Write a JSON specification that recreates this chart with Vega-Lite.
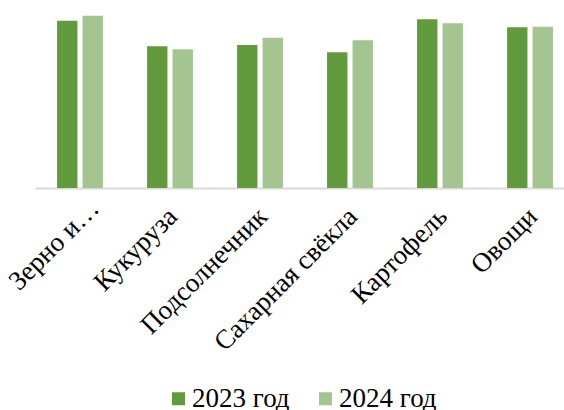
{
  "$schema": "https://vega.github.io/schema/vega-lite/v6.json",
  "autosize": {"type": "none"},
  "width": 540,
  "height": 180,
  "padding": {"left": 35, "top": 8, "right": 0, "bottom": 222},
  "background": "white",
  "config": {"view": {"stroke": null}, "font": "Liberation Serif"},
  "data": {"values": [
    {"cat": "Зерно и…", "year": "2023 год", "v": 167.3},
    {"cat": "Зерно и…", "year": "2024 год", "v": 172.3},
    {"cat": "Кукуруза", "year": "2023 год", "v": 141.7},
    {"cat": "Кукуруза", "year": "2024 год", "v": 138.7},
    {"cat": "Подсолнечник", "year": "2023 год", "v": 143},
    {"cat": "Подсолнечник", "year": "2024 год", "v": 150.3},
    {"cat": "Сахарная свёкла", "year": "2023 год", "v": 135.7},
    {"cat": "Сахарная свёкла", "year": "2024 год", "v": 147.7},
    {"cat": "Картофель", "year": "2023 год", "v": 168.7},
    {"cat": "Картофель", "year": "2024 год", "v": 164.7},
    {"cat": "Овощи", "year": "2023 год", "v": 160.7},
    {"cat": "Овощи", "year": "2024 год", "v": 161.3}
  ]},
  "mark": {"type": "bar"},
  "encoding": {
    "x": {
      "field": "cat", "type": "nominal", "sort": null,
      "scale": {"paddingInner": 0.49, "paddingOuter": 0.245},
      "axis": {
        "title": null, "ticks": false, "domainColor": "#d9d9d9", "domainWidth": 2,
        "labelAngle": -45, "labelAlign": "right", "labelBaseline": "middle",
        "labelFont": "Liberation Serif", "labelFontSize": 27, "labelColor": "#000000",
        "labelPadding": {"condition": {"test": "datum.value === 'Зерно и…'", "value": 16}, "value": 24},
        "labelOffset": {"condition": {"test": "datum.value === 'Зерно и…'", "value": 15}, "value": 3},
        "labelLimit": 300
      }
    },
    "xOffset": {"field": "year", "type": "nominal", "scale": {"paddingInner": 0.2}},
    "y": {
      "field": "v", "type": "quantitative",
      "scale": {"domain": [0, 180], "nice": false},
      "axis": null
    },
    "color": {
      "field": "year", "type": "nominal",
      "scale": {"range": ["#629B3E", "#A4C490"]},
      "legend": {
        "title": null, "orient": "none", "direction": "horizontal",
        "legendX": 130, "legendY": 377,
        "symbolType": "square", "symbolSize": 169, "symbolStrokeWidth": 0,
        "labelFont": "Liberation Serif", "labelFontSize": 27, "labelColor": "#000000",
        "labelOffset": 0, "columnPadding": 22
      }
    }
  }
}
